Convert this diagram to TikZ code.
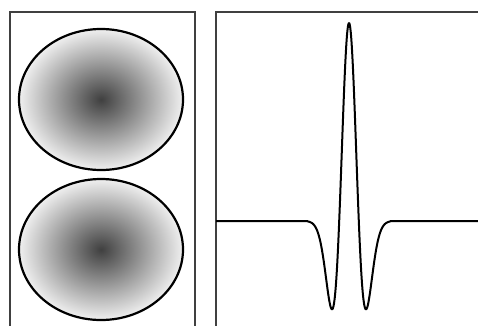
\documentclass[tikz,border=0pt]{standalone}
\usepackage{amsmath}
\usepackage{xcolor}
\usepackage{tikz}

\begin{document}
\begin{tikzpicture}[x=1pt, y=-1pt]
\useasboundingbox (0,0) rectangle (478,325);

% Frames
\draw[line width=2.4pt, black!75] (10,330) -- (10,12) -- (195,12) -- (195,330);
\draw[line width=2.4pt, black!75] (485,12) -- (216,12) -- (216,330);

% Shaded ellipses
\shade[inner color=black!75, outer color=black!6] (101,99.5) ellipse (82 and 70.5);
\draw[line width=2.2pt] (101,99.5) ellipse (82 and 70.5);
\shade[inner color=black!75, outer color=black!6] (101,249.5) ellipse (82 and 70.5);
\draw[line width=2.2pt] (101,249.5) ellipse (82 and 70.5);

% Wavelet
\draw[line width=2pt, line join=round] (216,221) -- (300,221)
  -- plot[domain=300:398, samples=200, smooth] (\x, {221 - 198*(1-((\x-349)/9.8)^2)*exp(-0.5*((\x-349)/9.8)^2)})
  -- (480,221);

\end{tikzpicture}
\end{document}
